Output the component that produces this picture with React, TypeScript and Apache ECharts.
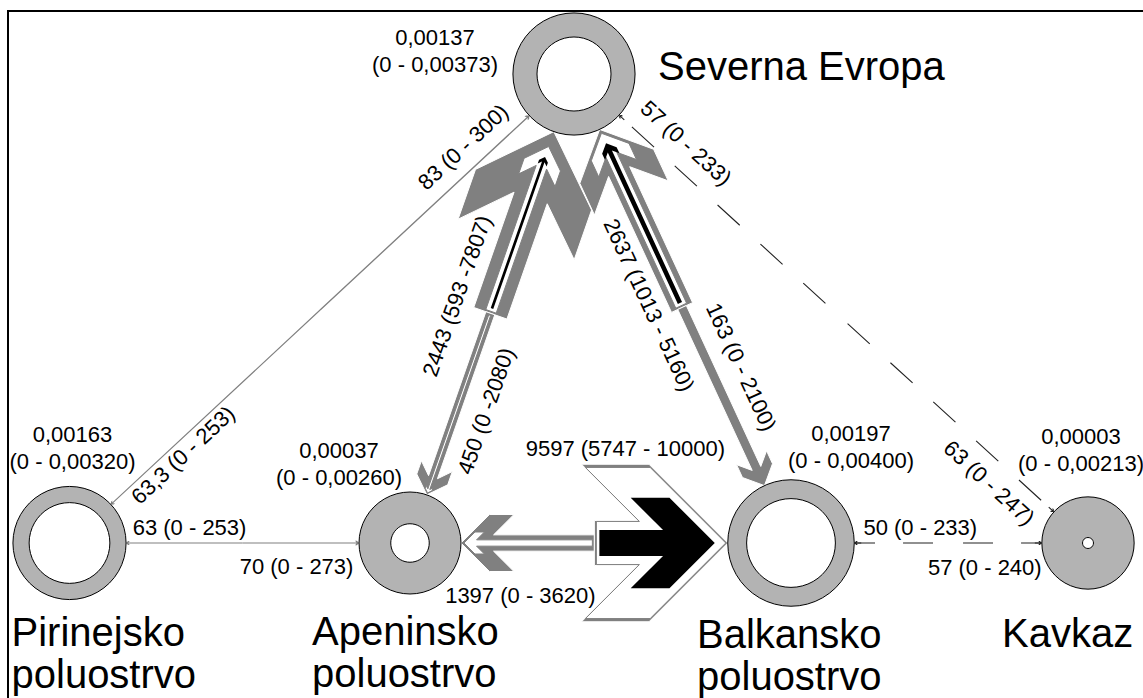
import React, { useEffect, useRef } from "react";
import * as echarts from "echarts";

// ---------------- data ----------------
const nodeNames = [
  "Severna Evropa",
  "Pirinejsko\npoluostrvo",
  "Apeninsko\npoluostrvo",
  "Balkansko\npoluostrvo",
  "Kavkaz",
];
const nodeX = [574, 69.5, 410, 791, 1088];
const nodeY = [74, 543, 543, 543, 543];
const nodeEstimate = [0.00137, 0.00163, 0.00037, 0.00197, 0.00003];
const nodeLower = [0, 0, 0, 0, 0];
const nodeUpper = [0.00373, 0.0032, 0.0026, 0.004, 0.00213];

// 0 Severna, 1 Pirinejsko, 2 Apeninsko, 3 Balkansko, 4 Kavkaz
const flowFrom = [1, 0, 0, 4, 2, 0, 3, 0, 3, 2, 1, 2, 4, 3];
const flowTo = [0, 1, 4, 0, 0, 2, 0, 3, 2, 3, 2, 1, 3, 4];
const flowEstimate = [83, 63.3, 63, 57, 2443, 450, 2637, 163, 1397, 9597, 70, 63, 50, 57];
const flowLower = [0, 0, 0, 0, 593, 0, 1013, 0, 0, 5747, 0, 0, 0, 0];
const flowUpper = [300, 253, 247, 233, 7807, 2080, 5160, 2100, 3620, 10000, 273, 253, 233, 240];
const flowLabels = [
  "83 (0 - 300)",
  "63,3 (0 - 253)",
  "63 (0 - 247)",
  "57 (0 - 233)",
  "2443 (593 -7807)",
  "450 (0 -2080)",
  "2637 (1013 - 5160)",
  "163 (0 - 2100)",
  "1397 (0 - 3620)",
  "9597 (5747 - 10000)",
  "70 (0 - 273)",
  "63 (0 - 253)",
  "50 (0 - 233)",
  "57 (0 - 240)",
];

// ---------------- layout / style ----------------
const flowLabelAlong = [215.7, 199.1, 226.9, 226, 5.3, 93.7, 16, 78.9, 74, 31, 54, 53, 27.75, 36.75];
const flowLabelSide = [-22.1, -12.8, 22.2, 24.5, -37.2, -28.1, -28.9, -28.7, -52, -95, 23, 15.5, 16, 24];
const dashedFlow = [false, false, true, true, false, false, false, false, false, false, false, false, true, true];
const nodeValueDx = [-139, 3, -71, 60, -7];
const nodeValueDy = [-23.4, -95, -79.25, -95.75, -93.5];
const nodeNameDx = [84, -58, -98, -94, -86];
const nodeNameDy = [-8, 88.5, 88, 91, 90];

const WIDTH_SCALE = 0.0045; // px of shaft per individual
const RADIUS_SCALE = 1000; // r = RADIUS_SCALE * sqrt(value)
const HEAD_HALF = 1.75;
const HEAD_THICK = 1.5;
const GRAY = "#808080";
const RING = "#b3b3b3";
const DASH = "#222";
const FONT = "'Liberation Sans', Arial, Helvetica, sans-serif";

const radiusOf = (v: number) => RADIUS_SCALE * Math.sqrt(v);
const fmt = (v: number) => (v === 0 ? "0" : v.toFixed(5).replace(".", ","));

function flowGeom(api: any, i: number) {
  const f = flowFrom[i];
  const t = flowTo[i];
  const a = api.coord([nodeX[f], nodeY[f]]);
  const b = api.coord([nodeX[t], nodeY[t]]);
  const ra = radiusOf(nodeUpper[f]);
  const rb = radiusOf(nodeUpper[t]);
  const dx = b[0] - a[0];
  const dy = b[1] - a[1];
  const len = Math.hypot(dx, dy);
  const ux = dx / len;
  const uy = dy / len;
  const ea = [a[0] + ux * ra, a[1] + uy * ra];
  const eb = [b[0] - ux * rb, b[1] - uy * rb];
  const m = [(ea[0] + eb[0]) / 2, (ea[1] + eb[1]) / 2];
  const L = Math.hypot(eb[0] - m[0], eb[1] - m[1]);
  return { m, ux, uy, nx: -uy, ny: ux, L };
}

function pt(g: any, s: number, p: number) {
  return [g.m[0] + g.ux * s + g.nx * p, g.m[1] + g.uy * s + g.ny * p];
}

function arrowPoints(g: any, w: number, s0: number, tipInset: number) {
  const h = w / 2;
  const H = HEAD_HALF * w;
  const t = HEAD_THICK * w;
  const L = g.L - tipInset;
  const local = [
    [s0, -h],
    [L - t - h, -h],
    [L - H - t, -H],
    [L - H, -H],
    [L, 0],
    [L - H, H],
    [L - H - t, H],
    [L - t - h, h],
    [s0, h],
  ];
  return local.map(([s, p]) => pt(g, s, p));
}

function whiteInset(i: number) {
  const diff = (flowUpper[i] - flowEstimate[i]) * WIDTH_SCALE;
  return Math.max(2, diff * 0.9 - 6);
}

const empty = { type: "group", children: [] };

export default function App() {
  const ref = useRef<HTMLDivElement>(null);
  useEffect(() => {
    if (!ref.current) return;
    const chart = echarts.init(ref.current, undefined, { renderer: "svg" });
    const flowData = flowFrom.map((f, i) => [nodeX[f], nodeY[f], nodeX[flowTo[i]], nodeY[flowTo[i]], i]);
    const nodeData = nodeX.map((x, i) => [x, nodeY[i], i]);

    const option: any = {
      animation: false,
      grid: { left: 0, right: 0, top: 0, bottom: 0 },
      xAxis: { type: "value", min: 0, max: 1143, show: false },
      yAxis: { type: "value", min: 0, max: 698, inverse: true, show: false },
      graphic: [
        {
          type: "rect",
          shape: { x: 8, y: 11, width: 1300, height: 900 },
          style: { fill: "none", stroke: "#000", lineWidth: 2 },
          z: 0,
        },
      ],
      series: [
        {
          type: "custom",
          name: "upper",
          z: 2,
          data: flowData,
          encode: { x: [0, 2], y: [1, 3] },
          renderItem: (_p: any, api: any) => {
            const i = api.value(4);
            const g = flowGeom(api, i);
            const w = flowUpper[i] * WIDTH_SCALE;
            if (dashedFlow[i]) {
              const p0 = pt(g, 15, 0);
              const p1 = pt(g, g.L, 0);
              const wh = Math.max(w, 1.1);
              return {
                type: "group",
                children: [
                  {
                    type: "line",
                    shape: { x1: p0[0], y1: p0[1], x2: p1[0], y2: p1[1] },
                    style: { stroke: DASH, lineWidth: 1.1, lineDash: [30, 28] },
                  },
                  {
                    type: "polygon",
                    shape: { points: arrowPoints(g, wh, g.L - 7, 0) },
                    style: { fill: DASH },
                  },
                ],
              };
            }
            return {
              type: "polygon",
              shape: { points: arrowPoints(g, w, 0, 0) },
              style: w > 5 ? { fill: GRAY, stroke: "#fff", lineWidth: 1 } : { fill: GRAY },
            };
          },
        },
        {
          type: "custom",
          name: "estimate",
          z: 3,
          data: flowData,
          encode: { x: [0, 2], y: [1, 3] },
          renderItem: (_p: any, api: any) => {
            const i = api.value(4);
            const w = flowEstimate[i] * WIDTH_SCALE;
            if (dashedFlow[i] || w < 1.5) return empty;
            const g = flowGeom(api, i);
            return {
              type: "polygon",
              shape: { points: arrowPoints(g, w, 2, whiteInset(i)) },
              style: { fill: "#fff", stroke: GRAY, lineWidth: 1 },
            };
          },
        },
        {
          type: "custom",
          name: "lower",
          z: 4,
          data: flowData,
          encode: { x: [0, 2], y: [1, 3] },
          renderItem: (_p: any, api: any) => {
            const i = api.value(4);
            const w = flowLower[i] * WIDTH_SCALE;
            if (dashedFlow[i] || w <= 0) return empty;
            const g = flowGeom(api, i);
            return {
              type: "polygon",
              shape: { points: arrowPoints(g, w, 5, whiteInset(i) + 11) },
              style: { fill: "#000" },
            };
          },
        },
        {
          type: "custom",
          name: "nodes",
          z: 5,
          data: nodeData,
          encode: { x: 0, y: 1 },
          renderItem: (_p: any, api: any) => {
            const i = api.value(2);
            const c = api.coord([api.value(0), api.value(1)]);
            const rO = radiusOf(nodeUpper[i]);
            const rE = radiusOf(nodeEstimate[i]);
            const rL = radiusOf(nodeLower[i]);
            const lines = nodeNames[i].split("\n").length;
            const children: any[] = [
              { type: "circle", shape: { cx: c[0], cy: c[1], r: rO }, style: { fill: RING, stroke: "#000", lineWidth: 1 } },
              { type: "circle", shape: { cx: c[0], cy: c[1], r: rE }, style: { fill: "#fff", stroke: "#000", lineWidth: 1 } },
            ];
            if (rL > 0) {
              children.push({ type: "circle", shape: { cx: c[0], cy: c[1], r: rL }, style: { fill: "#000" } });
            }
            children.push({
              type: "text",
              x: c[0] + nodeValueDx[i],
              y: c[1] + nodeValueDy[i],
              style: {
                text: `${fmt(nodeEstimate[i])}\n(${fmt(nodeLower[i])} - ${fmt(nodeUpper[i])})`,
                fill: "#000",
                fontFamily: FONT,
                fontSize: 22,
                lineHeight: 27,
                align: "center",
                verticalAlign: "middle",
              },
            });
            children.push({
              type: "text",
              x: c[0] + nodeNameDx[i],
              y: c[1] + nodeNameDy[i] + (lines - 1) * 21,
              style: {
                text: nodeNames[i],
                fill: "#000",
                fontFamily: FONT,
                fontSize: 40,
                lineHeight: 42,
                align: "left",
                verticalAlign: "middle",
              },
            });
            return { type: "group", children };
          },
        },
        {
          type: "custom",
          name: "flowLabels",
          z: 6,
          data: flowData,
          encode: { x: [0, 2], y: [1, 3] },
          renderItem: (_p: any, api: any) => {
            const i = api.value(4);
            const g = flowGeom(api, i);
            const p = pt(g, flowLabelAlong[i], flowLabelSide[i]);
            let ang = Math.atan2(g.uy, g.ux);
            if (ang > Math.PI / 2 + 1e-6) ang -= Math.PI;
            if (ang < -Math.PI / 2 - 1e-6) ang += Math.PI;
            return {
              type: "text",
              x: p[0],
              y: p[1],
              rotation: -ang,
              style: {
                text: flowLabels[i],
                fill: "#000",
                fontFamily: FONT,
                fontSize: 22,
                align: "center",
                verticalAlign: "middle",
              },
            };
          },
        },
      ],
    };
    chart.setOption(option);
    return () => chart.dispose();
  }, []);

  return (
    <div
      ref={ref}
      style={{ position: "fixed", left: 0, top: 0, width: 1143, height: 698, background: "#fff" }}
    />
  );
}
